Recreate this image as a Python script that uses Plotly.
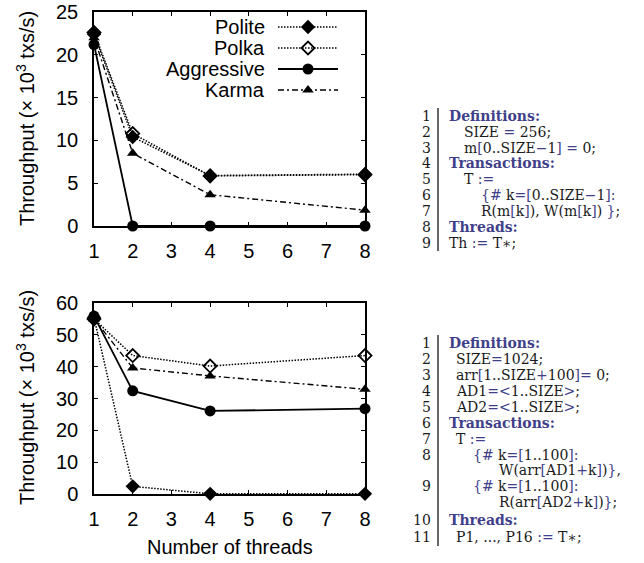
import plotly.graph_objects as go

W, H = 644, 563

threads = [1, 2, 4, 8]
x_ticks = [1, 2, 3, 4, 5, 6, 7, 8]

# Top chart (SIZE = 256), throughput x10^3 txs/s
top_polite = [22.4, 10.4, 5.9, 6.05]
top_polka = [22.6, 10.8, 5.85, 6.0]
top_aggressive = [21.2, 0.0, 0.0, 0.0]
top_karma = [22.0, 8.5, 3.65, 1.85]

# Bottom chart (SIZE = 1024)
bot_polite = [55.5, 2.4, 0.05, 0.05]
bot_polka = [55.0, 43.5, 40.2, 43.5]
bot_aggressive = [55.9, 32.4, 26.1, 26.8]
bot_karma = [55.0, 39.6, 37.1, 32.9]

series_names = ["Polite", "Polka", "Aggressive", "Karma"]

def px(x):
    return x / W

def py(y):
    return 1 - y / H

styles = {
    "Polite": dict(line=dict(color="black", width=1.5, dash="1.5px,1.5px"),
                   marker=dict(symbol="diamond", size=11, color="black")),
    "Polka": dict(line=dict(color="black", width=1.5, dash="1.5px,1.5px"),
                  marker=dict(symbol="diamond-open", size=10, color="black",
                              line=dict(width=1.8, color="black"))),
    "Aggressive": dict(line=dict(color="black", width=1.8),
                       marker=dict(symbol="circle", size=11, color="black")),
    "Karma": dict(line=dict(color="black", width=1.4, dash="6px,3px,2px,3px"),
                  marker=dict(symbol="triangle-up", size=10, color="black")),
}

fig = go.Figure()

top_data = {"Polite": top_polite, "Polka": top_polka,
            "Aggressive": top_aggressive, "Karma": top_karma}
bot_data = {"Polite": bot_polite, "Polka": bot_polka,
            "Aggressive": bot_aggressive, "Karma": bot_karma}

for name in series_names:
    fig.add_trace(go.Scatter(x=threads, y=top_data[name], mode="lines+markers",
                             name=name, xaxis="x", yaxis="y", cliponaxis=False,
                             showlegend=False, **styles[name]))
for name in series_names:
    fig.add_trace(go.Scatter(x=threads, y=bot_data[name], mode="lines+markers",
                             name=name, xaxis="x2", yaxis="y2", cliponaxis=False,
                             showlegend=False, **styles[name]))

# Manual gnuplot-style legend (text left, sample right), on a pixel overlay axis
leg_rows = [27, 48, 69, 90]
annotations = []
for name, ry in zip(series_names, leg_rows):
    st = styles[name]
    fig.add_trace(go.Scatter(x=[278, 338], y=[ry, ry], mode="lines",
                             line=st["line"], xaxis="x3", yaxis="y3",
                             showlegend=False, hoverinfo="skip", cliponaxis=False))
    fig.add_trace(go.Scatter(x=[308], y=[ry], mode="markers",
                             marker=st["marker"], xaxis="x3", yaxis="y3",
                             showlegend=False, hoverinfo="skip", cliponaxis=False))
    annotations.append(dict(text=name, x=px(266), y=py(ry), xref="paper", yref="paper",
                            xanchor="right", yanchor="middle", showarrow=False,
                            borderpad=0,
                            font=dict(family="Liberation Sans", size=20, color="black")))

axis_common = dict(showline=True, linecolor="black", linewidth=1.5, mirror="ticks",
                   ticks="inside", ticklen=4, tickwidth=1.2, tickcolor="black",
                   showgrid=False, zeroline=False, automargin=False,
                   tickfont=dict(family="Liberation Sans", size=20, color="black"))

fig.update_layout(
    width=W, height=H, autosize=False,
    margin=dict(l=0, r=0, t=0, b=0, pad=0),
    paper_bgcolor="white", plot_bgcolor="rgba(0,0,0,0)",
    xaxis=dict(domain=[px(94), px(365)], range=[1, 8], tickvals=x_ticks,
               anchor="y", ticklabelstandoff=6, **axis_common),
    yaxis=dict(domain=[py(226), py(12)], range=[0, 25], dtick=5,
               anchor="x", ticklabelstandoff=10, **axis_common),
    xaxis2=dict(domain=[px(94), px(365)], range=[1, 8], tickvals=x_ticks,
                anchor="y2", ticklabelstandoff=6, **axis_common),
    yaxis2=dict(domain=[py(494), py(303)], range=[0, 60], dtick=10,
                anchor="x2", ticklabelstandoff=10, **axis_common),
    xaxis3=dict(domain=[0, 1], range=[0, W], visible=False, anchor="y3", automargin=False),
    yaxis3=dict(domain=[0, 1], range=[H, 0], visible=False, anchor="x3", automargin=False),
)

# Axis titles
ytitle = "Throughput (× 10<sup>3</sup> txs/s)"
for cy in (119, 398):
    annotations.append(dict(text=ytitle, x=px(25), y=py(cy), xref="paper", yref="paper",
                            textangle=-90, xanchor="center", yanchor="middle",
                            showarrow=False,
                            font=dict(family="Liberation Sans", size=20, color="black")))
annotations.append(dict(text="Number of threads", x=px(229.5), y=py(547),
                        xref="paper", yref="paper", xanchor="center", yanchor="middle",
                        showarrow=False,
                        font=dict(family="Liberation Sans", size=20, color="black")))

# Code listings
B = "#3f3f8a"

def b(s):
    return f"<span style='color:{B}'>{s}</span>"

def kw(s):
    return f"<b><span style='color:{B}'>{s}</span></b>"

top_code = [
    ("1", kw("Definitions:"), 448),
    ("2", "SIZE " + b("=") + " 256;", 463),
    ("3", "m" + b("[") + "0..SIZE" + b("−") + "1" + b("]") + " " + b("=") + " 0;", 463),
    ("4", kw("Transactions:"), 448),
    ("5", "T " + b(":="), 463),
    ("6", b("{#") + " k" + b("=[") + "0..SIZE" + b("−") + "1" + b("]:"), 480),
    ("7", "R(m" + b("[") + "k" + b("]") + "), W(m" + b("[") + "k" + b("]") + ") " + b("}") + ";", 480),
    ("8", kw("Threads:"), 448),
    ("9", "Th " + b(":=") + " T∗;", 448),
]
top_rows = [116, 132, 148, 163, 179, 195, 211, 227, 243]

bot_code = [
    ("1", kw("Definitions:"), 448),
    ("2", "SIZE" + b("=") + "1024;", 455),
    ("3", "arr" + b("[") + "1..SIZE" + b("+") + "100" + b("]=") + " 0;", 455),
    ("4", "AD1" + b("=<") + "1..SIZE" + b(">") + ";", 455),
    ("5", "AD2" + b("=<") + "1..SIZE" + b(">") + ";", 455),
    ("6", kw("Transactions:"), 448),
    ("7", "T " + b(":="), 455),
    ("8", b("{#") + " k" + b("=[") + "1..100" + b("]:"), 472),
    ("", "W(arr" + b("[") + "AD1" + b("+") + "k" + b("]") + ")" + b("}") + ",", 498),
    ("9", b("{#") + " k" + b("=[") + "1..100" + b("]:"), 472),
    ("", "R(arr" + b("[") + "AD2" + b("+") + "k" + b("]") + ")" + b("}") + ";", 498),
    ("10", kw("Threads:"), 448),
    ("11", "P1, ..., P16 " + b(":=") + " T∗;", 455),
]
bot_rows = [343, 359, 375, 391, 407, 423, 439, 455, 470, 486, 502, 520, 537]

code_font = dict(family="DejaVu Serif", size=14, color="#1a1a1a")
for code, rows in ((top_code, top_rows), (bot_code, bot_rows)):
    for (num, txt, tx), ry in zip(code, rows):
        if num:
            annotations.append(dict(text=num, x=px(432), y=py(ry), xref="paper", yref="paper",
                                    xanchor="right", yanchor="middle", showarrow=False,
                                    borderpad=0, font=code_font))
        annotations.append(dict(text=txt, x=px(tx), y=py(ry), xref="paper", yref="paper",
                                xanchor="left", yanchor="middle", showarrow=False,
                                borderpad=0, font=code_font))

shapes = [
    dict(type="line", xref="paper", yref="paper", x0=px(438), x1=px(438),
         y0=py(108), y1=py(251), line=dict(color="black", width=1.2)),
    dict(type="line", xref="paper", yref="paper", x0=px(438), x1=px(438),
         y0=py(335), y1=py(546), line=dict(color="black", width=1.2)),
]

fig.update_layout(annotations=annotations, shapes=shapes)
fig.write_html(
    "out.html",
    config={"displayModeBar": False},
    post_script="document.body.style.margin='0';document.body.style.overflow='hidden';"
                "document.documentElement.style.overflow='hidden';",
)
